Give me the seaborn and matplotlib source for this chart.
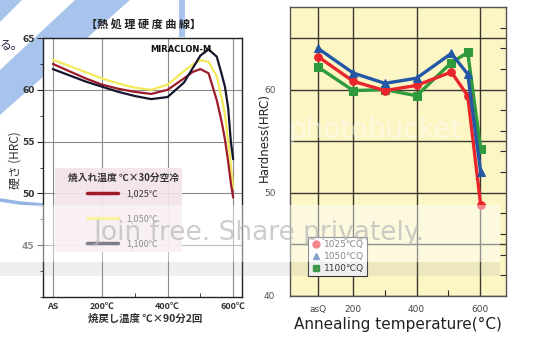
import numpy as np
import pandas as pd
import matplotlib.pyplot as plt
import seaborn as sns
from matplotlib.lines import Line2D
from matplotlib.patches import Polygon, Rectangle
from matplotlib.ticker import MultipleLocator, FixedLocator

# --- left chart: MIRACLON-M tempering curves (AS drawn at 50) ---
left_temp = [50, 100, 150, 200, 250, 300, 350, 400, 450, 475, 500, 525, 550, 565, 575, 585, 593, 600]
red_1025 = [62.5, 61.8, 61.1, 60.5, 60.1, 59.8, 59.6, 60.0, 61.1, 61.7, 62.0, 61.6, 59.0, 56.9, 55.2, 53.0, 51.0, 49.6]
yellow_1050 = [62.9, 62.3, 61.7, 61.1, 60.6, 60.2, 60.0, 60.5, 61.8, 62.4, 62.85, 62.7, 61.3, 59.2, 57.6, 55.0, 52.7, 50.5]
black_1100 = [62.0, 61.4, 60.8, 60.3, 59.8, 59.4, 59.1, 59.3, 60.7, 62.0, 63.3, 63.9, 63.2, 61.5, 60.3, 58.2, 55.0, 53.3]
left_labels = ['1,025℃', '1,050℃', '1,100℃']
left_xticks = [50, 200, 400, 600]
left_xticklabels = ['AS', '200℃', '400℃', '600℃']

# --- right chart: annealing temperature vs hardness ---
right_temp = [88, 200, 300, 400, 510, 562, 603]
hrc_1025 = [63.2, 60.8, 59.9, 60.4, 61.7, 59.4, 48.8]
hrc_1050 = [64.0, 61.6, 60.6, 61.1, 63.5, 61.5, 52.0]
hrc_1100 = [62.2, 59.9, 60.0, 59.4, 62.6, 63.6, 54.2]
right_labels = ['1025℃Q', '1050℃Q', '1100℃Q']
right_xticks = [88, 200, 400, 600]
right_xticklabels = ['asQ', '200', '400', '600']

sns.set_style('white')
plt.rcParams['font.family'] = ['DejaVu Sans', 'Noto Sans CJK JP']
JP = ['Noto Sans CJK JP', 'DejaVu Sans']

W, H = 554, 358
fig = plt.figure(figsize=(W / 100, H / 100), dpi=100)


def px(x, y):
    return (x / W, 1 - y / H)


# page decoration behind the left chart
blue = '#A9C4EC'
for pts in [[(0, 0), (22, 0), (0, 22)],
            [(75, 0), (130, 0), (0, 115), (0, 70)]]:
    fig.patches.append(Polygon([px(*p) for p in pts], closed=True, transform=fig.transFigure,
                               facecolor=blue, edgecolor='none', zorder=-2))
fig.patches.append(Rectangle(px(179, 37), 6 / W, 37 / H, transform=fig.transFigure,
                             facecolor=blue, edgecolor='none', zorder=-2))
fig.lines.append(Line2D([0, 20 / W, 43 / W], [1 - 200 / H, 1 - 203 / H, 1 - 205 / H],
                        transform=fig.transFigure, color='#94B4E4', lw=2.5, zorder=-1))
fig.text(*px(0, 45), 'る。', fontsize=8.5, family=JP, ha='left', va='center', color='#1c1c3a')

# ---------------- left chart ----------------
axL = fig.add_axes([43 / W, 1 - 297 / H, 199 / W, 259 / H])
axL.set_facecolor('white')
left_colors = ['#9E1B2A', '#F2EA58', '#15152E']
for vals, c in [(yellow_1050, left_colors[1]), (red_1025, left_colors[0]), (black_1100, left_colors[2])]:
    sns.lineplot(x=left_temp, y=vals, ax=axL, color=c, linewidth=1.6, legend=False)

axL.set_xlim(20, 627)
axL.set_ylim(40, 65)
axL.set_yticks([45, 50, 55, 60, 65])
axL.yaxis.set_minor_locator(MultipleLocator(2.5))
axL.set_xticks(left_xticks)
axL.set_xticklabels(left_xticklabels, fontfamily=JP, fontsize=6.5, fontweight='bold', color='#333333')
axL.xaxis.set_minor_locator(FixedLocator([300, 500]))
for lbl in axL.get_yticklabels():
    lbl.set_fontsize(6.5)
    lbl.set_fontweight('bold')
    lbl.set_color('#333333')
axL.tick_params(axis='y', which='major', left=True, length=4, width=0.8, pad=2)
axL.tick_params(axis='y', which='minor', left=True, length=2.5, width=0.6)
axL.tick_params(axis='x', which='major', bottom=False, pad=0)
axL.tick_params(axis='x', which='minor', bottom=True, direction='in', length=3, width=0.6)
axL.grid(True, which='major', color='#8a8a8a', linewidth=0.8)
for s in axL.spines.values():
    s.set_color('#222222')
    s.set_linewidth(1.0)
axL.set_xlabel('')
axL.set_ylabel('')
axL.text(0.538, 0.954, 'MIRACLON-M', transform=axL.transAxes, fontsize=6, fontweight='bold',
         ha='left', va='center', color='#111111')

# legend panel: pink box, title, then indented entries
axL.add_patch(Rectangle((0.06, 0.174), 0.64, 0.324, transform=axL.transAxes,
                        facecolor='#F3E3EA', edgecolor='none', alpha=0.9, zorder=3))
axL.text(0.126, 0.46, '焼入れ温度 ℃×30分空冷', transform=axL.transAxes, fontsize=7,
         family=JP, fontweight='bold', ha='left', va='center', color='#333333', zorder=4)
hl = [Line2D([0], [0], color=c, lw=2.5) for c in left_colors]
legL = axL.legend(hl, left_labels, loc='upper left', bbox_to_anchor=(0.22, 0.415),
                  frameon=False, labelspacing=1.75, handlelength=3.5, handletextpad=0.85,
                  borderpad=0, borderaxespad=0, prop={'family': JP, 'size': 6.5})
legL.set_zorder(5)
for t in legL.get_texts():
    t.set_color('#333333')

fig.text(*px(144, 25), '【熱 処 理 硬 度 曲 線】', fontsize=8, family=JP, fontweight='bold',
         ha='center', va='center', color='#222222')
fig.text(*px(145, 319), '焼戻し温度 ℃×90分2回', fontsize=7.5, family=JP, fontweight='bold',
         ha='center', va='center', color='#333333')
fig.text(*px(15, 160), '硬さ (HRC)', fontsize=8.5, family=JP, rotation=90,
         ha='center', va='center', color='#333333')

# ---------------- right chart ----------------
axR = fig.add_axes([290 / W, 1 - 296 / H, 216 / W, 289 / H])
axR.set_facecolor('#FCF5C4')
right_colors = ['#E8262C', '#2457A6', '#2E9A3C']
right_markers = ['o', '^', 's']
for vals, c, m in [(hrc_1100, right_colors[2], right_markers[2]),
                   (hrc_1025, right_colors[0], right_markers[0]),
                   (hrc_1050, right_colors[1], right_markers[1])]:
    sns.lineplot(x=right_temp, y=vals, ax=axR, color=c, linewidth=2.4, marker=m,
                 markersize=5.5, markeredgecolor=c, legend=False)

axR.set_xlim(0, 683)
axR.set_ylim(40, 68)
axR.set_yticks([40, 45, 50, 55, 60, 65])
axR.set_yticklabels(['40', '', '50', '', '60', ''], fontsize=6.5, color='#555555')
axR.yaxis.set_minor_locator(MultipleLocator(2))
axR.set_xticks(right_xticks)
axR.set_xticklabels(right_xticklabels, fontsize=6.5, color='#444444')
axR.xaxis.set_minor_locator(FixedLocator([300, 500]))
axR.tick_params(axis='y', which='major', left=False, right=False, pad=7)
axR.tick_params(axis='y', which='minor', left=False, right=True, direction='in', length=4, width=0.8)
axR.tick_params(axis='x', which='major', bottom=False, pad=3)
axR.tick_params(axis='x', which='minor', bottom=True, direction='in', length=4, width=0.8)
axR.grid(True, which='major', color='#3a3a30', linewidth=1.0)
for s in axR.spines.values():
    s.set_color('#555555')
    s.set_linewidth(1.0)
axR.set_ylabel('')
axR.set_xlabel('Annealing temperature(°C)', fontsize=11, color='#222222', labelpad=2)
fig.text(*px(264, 138), 'Hardness(HRC)', fontsize=8.5, rotation=90, ha='center', va='center',
         color='#222222')

hr = [Line2D([0], [0], color=c, marker=m, lw=0, markersize=5, markeredgecolor=c)
      for c, m in zip(right_colors, right_markers)]
legR = axR.legend(hr, right_labels, loc='upper left', bbox_to_anchor=(0.083, 0.205),
                  frameon=True, facecolor='white', edgecolor='#333333', framealpha=1,
                  fancybox=False, fontsize=6.5, labelspacing=0.35, handlelength=1.0,
                  handletextpad=0.4, borderpad=0.35, borderaxespad=0)
legR.get_frame().set_linewidth(0.8)

# photobucket watermark band
fig.patches.append(Rectangle(px(0, 262), 500 / W, 57 / H, transform=fig.transFigure,
                             facecolor='white', edgecolor='none', alpha=0.45, zorder=5))
fig.patches.append(Rectangle(px(0, 276), 500 / W, 14 / H, transform=fig.transFigure,
                             facecolor='#9a9a9a', edgecolor='none', alpha=0.15, zorder=5))
fig.text(*px(259, 233), 'Join free. Share privately.', fontsize=19, color='#b8b8b8', alpha=0.7,
         ha='center', va='center', zorder=6)
fig.text(*px(375, 130), 'photobucket', fontsize=20, color='white', alpha=0.45,
         ha='center', va='center', zorder=6)

fig.savefig('out.png', dpi=100)
